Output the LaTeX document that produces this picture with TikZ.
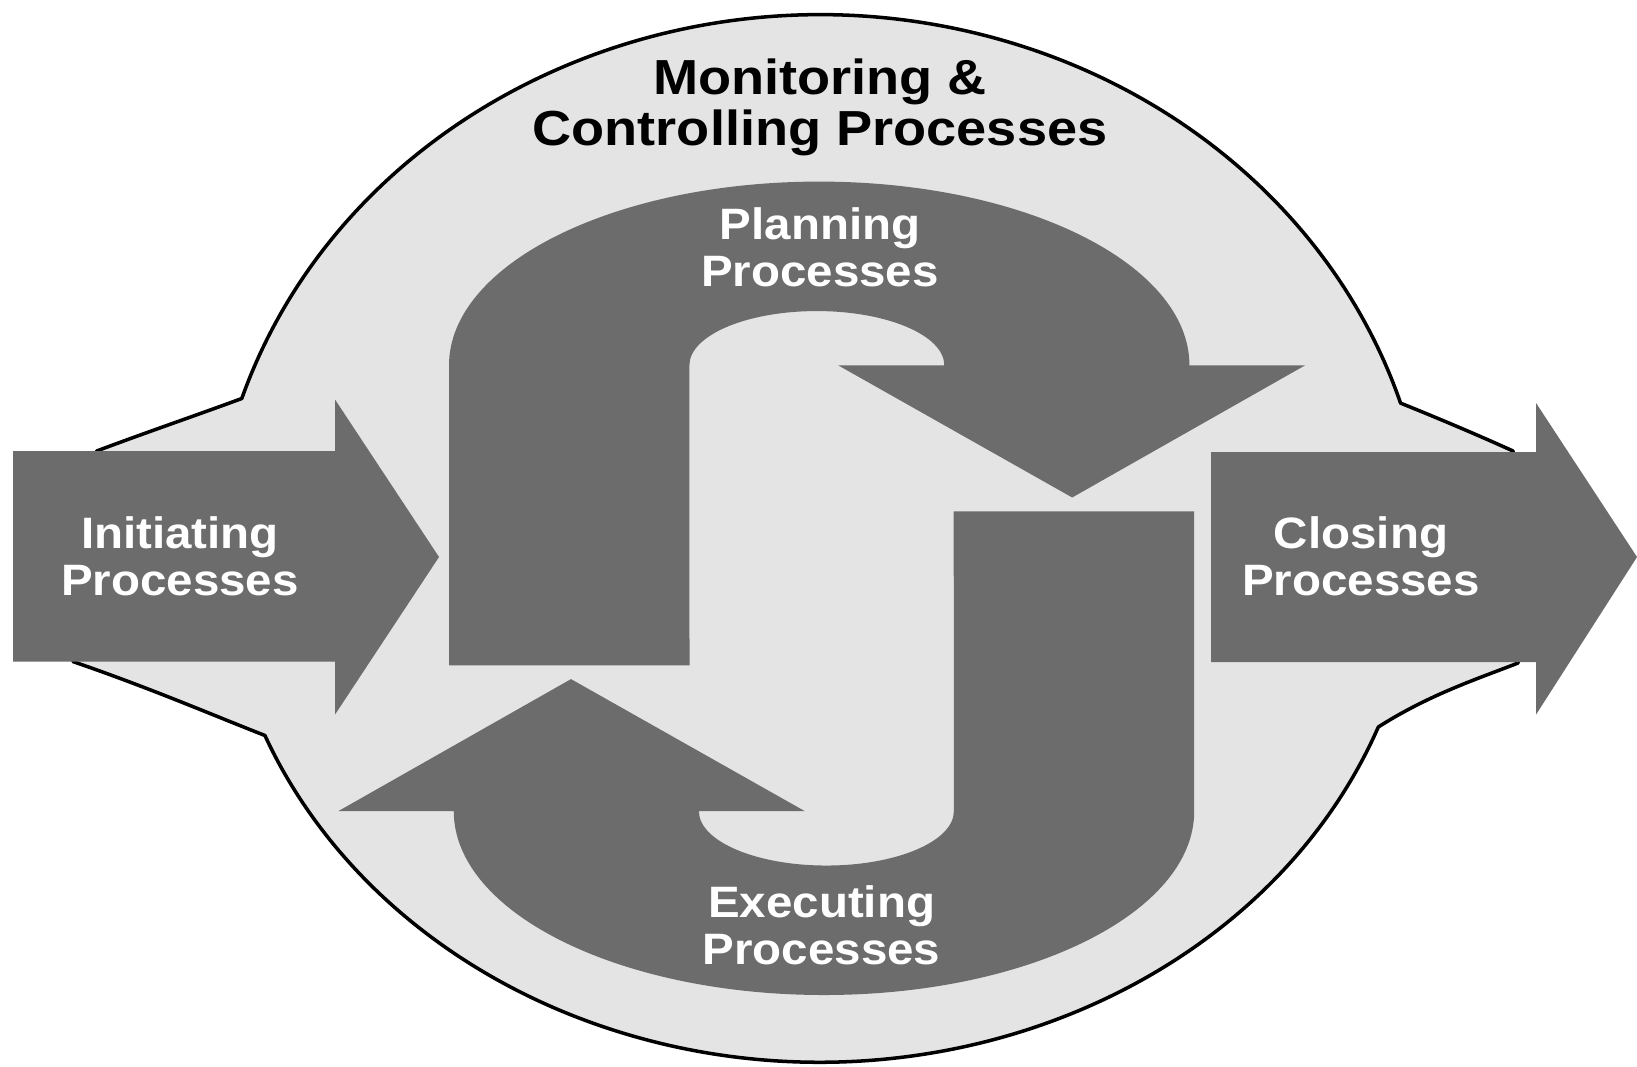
\documentclass[tikz,border=0pt]{standalone}
\usepackage{fontspec}
\setmainfont{Liberation Sans}
\newfontfamily\headfont[FakeStretch=1.1]{Liberation Sans}
\newfontfamily\lblfont[FakeStretch=1.08]{Liberation Sans}
\definecolor{darkg}{HTML}{6C6C6C}
\definecolor{lightg}{HTML}{E4E4E4}
\tikzset{
  outlinebox/.style={fill=lightg, draw=black, line width=1pt, line join=round},
  bigarrow/.style={fill=darkg, draw=none},
  lbl/.style={text=white, align=center, inner sep=0pt, font=\lblfont\bfseries\fontsize{12.5}{13.3}\selectfont},
  headlbl/.style={text=black, align=center, inner sep=0pt, font=\headfont\bfseries\fontsize{14}{14.5}\selectfont}
}
\begin{document}
\begin{tikzpicture}[x=0.01cm, y=0.01cm]
\useasboundingbox[fill=white] (0,0) rectangle (1637,1066);

% monitoring & controlling outline
\path[outlinebox] (96.7,615) .. controls (150,635) and (200,652) .. (241.8,667.5)
  arc[start angle=162, end angle=17.5, x radius=6.08cm, y radius=5.55cm]
  .. controls (1440,647) and (1480,630) .. (1513,615)
  -- (1518,403) .. controls (1480,388) and (1430,372) .. (1378.3,339)
  arc[start angle=-21, end angle=-158, x radius=5.98cm, y radius=5.22cm]
  .. controls (215,350) and (150,378) .. (73,404.4) -- cycle;

% initiating arrow
\path[bigarrow] (13,615) -- (335,615) -- (335,666.5) -- (439,509) -- (335,351.4) -- (335,404.4) -- (13,404.4) -- cycle;
% closing arrow
\path[bigarrow] (1211,614) -- (1536,614) -- (1536,663) -- (1637,509) -- (1536,351.4) -- (1536,404) -- (1211,404) -- cycle;

% planning arrow
\begin{scope}[shift={(821.6,477.7)}]
\path[bigarrow] (-372.6,-77) -- (-372.6,222.9)
  arc[start angle=180, end angle=0, x radius=3.70cm, y radius=1.837cm]
  -- (483.4,222.9) -- (250.6,90.8) -- (16.7,222.9) -- (122.7,222.9)
  arc[start angle=0, end angle=180, x radius=1.274cm, y radius=0.543cm]
  -- (-132.1,-77) -- cycle;
\end{scope}
% executing arrow
\begin{scope}[shift={(821.6,477.7)}, rotate=180]
\path[bigarrow] (-372.6,-77) -- (-372.6,222.9)
  arc[start angle=180, end angle=0, x radius=3.70cm, y radius=1.837cm]
  -- (483.4,222.9) -- (250.6,90.8) -- (16.7,222.9) -- (122.7,222.9)
  arc[start angle=0, end angle=180, x radius=1.274cm, y radius=0.543cm]
  -- (-132.1,-77) -- cycle;
\end{scope}

% labels
\node[headlbl] (monitor) at (820,959) {Monitoring \&\\Controlling Processes};
\node[lbl] (planning) at (820,818.6) {Planning\\Processes};
\node[lbl] (executing) at (821.6,141) {Executing\\Processes};
\node[lbl] (initiating) at (180,510) {Initiating\\Processes};
\node[lbl] (closing) at (1361,510) {Closing\\Processes};
\end{tikzpicture}
\end{document}
